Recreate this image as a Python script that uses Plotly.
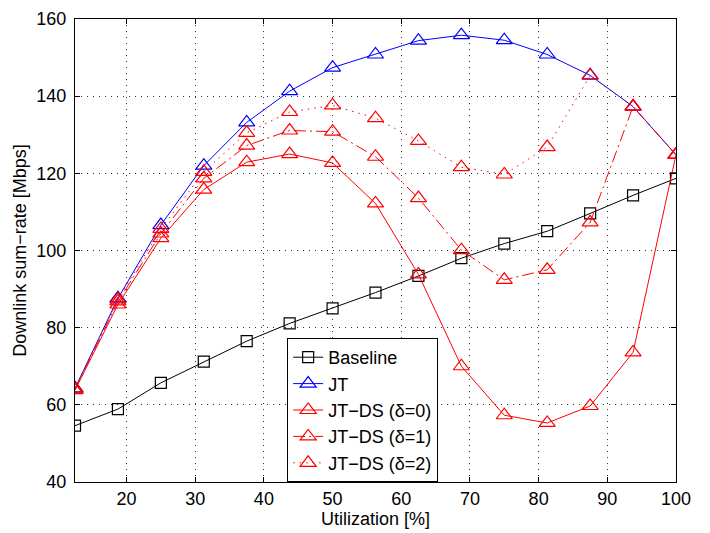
import plotly.graph_objects as go

# utilization steps [%]
util = [12.5, 18.75, 25, 31.25, 37.5, 43.75, 50, 56.25, 62.5, 68.75, 75, 81.25, 87.5, 93.75, 100]

# downlink sum-rate [Mbps]
baseline = [54.6, 58.9, 65.7, 71.2, 76.5, 81.1, 85.0, 89.1, 93.4, 98.0, 101.8, 105.0, 109.6, 114.3, 118.7]
jt = [64.3, 87.6, 106.6, 122.0, 133.2, 141.3, 147.4, 150.8, 154.4, 155.8, 154.5, 150.8, 145.4, 137.3, 124.8]
jt_ds0 = [63.8, 86.0, 103.2, 115.8, 122.9, 125.0, 122.7, 112.2, 93.8, 70.0, 57.3, 55.3, 59.7, 73.6, 124.8]
jt_ds1 = [64.0, 86.8, 104.4, 118.7, 127.2, 131.1, 130.8, 124.3, 113.6, 100.1, 92.4, 95.0, 107.3, 137.3, 124.8]
jt_ds2 = [64.2, 87.3, 105.6, 120.4, 130.5, 135.9, 137.6, 134.3, 128.4, 121.6, 119.7, 126.8, 145.3, 137.3, 124.8]

names = ['Baseline', 'JT', 'JT\u2212DS (\u03b4=0)', 'JT\u2212DS (\u03b4=1)', 'JT\u2212DS (\u03b4=2)']

FONT = 'Liberation Sans, Arial'

fig = go.Figure()

tri = dict(symbol='triangle-up-open', size=14, line=dict(width=1.2))

fig.add_trace(go.Scatter(x=util, y=baseline, name=names[0], mode='lines+markers',
                         line=dict(color='black', width=1),
                         marker=dict(symbol='square-open', size=11, color='black', line=dict(width=1.2))))
fig.add_trace(go.Scatter(x=util, y=jt, name=names[1], mode='lines+markers',
                         line=dict(color='blue', width=1),
                         marker=dict(color='blue', **tri)))
fig.add_trace(go.Scatter(x=util, y=jt_ds0, name=names[2], mode='lines+markers',
                         line=dict(color='red', width=1),
                         marker=dict(color='red', **tri)))
fig.add_trace(go.Scatter(x=util, y=jt_ds1, name=names[3], mode='lines+markers',
                         line=dict(color='red', width=1, dash='12px,4px,2px,4px'),
                         marker=dict(color='red', **tri)))
fig.add_trace(go.Scatter(x=util, y=jt_ds2, name=names[4], mode='lines+markers',
                         line=dict(color='red', width=1, dash='1.5px,5px'),
                         marker=dict(color='red', **tri)))

axis_common = dict(
    showline=True, linecolor='black', linewidth=1, mirror='ticks',
    ticks='inside', ticklen=5, tickcolor='black',
    showgrid=True, gridcolor='#333333', griddash='1px,5px', gridwidth=1,
    zeroline=False, automargin=False, ticklabeloverflow='allow',
    tickfont=dict(family=FONT, size=18, color='black'),
)

fig.update_xaxes(range=[12.5, 100], tickvals=[20, 30, 40, 50, 60, 70, 80, 90, 100],
                 title=dict(text='Utilization [%]', font=dict(family=FONT, size=18, color='black'),
                            standoff=4),
                 **axis_common)
fig.update_yaxes(range=[40, 160], tickvals=[40, 60, 80, 100, 120, 140, 160],
                 ticklabelstandoff=4,
                 title=dict(text='Downlink sum\u2212rate [Mbps]', font=dict(family=FONT, size=18, color='black'),
                            standoff=5),
                 **axis_common)

# page body adds an 8px offset; top margin just big enough to keep the "160" label on the page
fig.update_layout(
    width=710, height=533,
    margin=dict(l=67, r=42, t=11, b=59),
    plot_bgcolor='white', paper_bgcolor='white',
    font=dict(family=FONT, color='black'),
    legend=dict(x=0.353, y=0.311, xanchor='left', yanchor='top',
                bgcolor='white', bordercolor='black', borderwidth=1,
                font=dict(family=FONT, size=18, color='black'),
                tracegroupgap=0),
    showlegend=True,
)

fig.write_html("out.html")
